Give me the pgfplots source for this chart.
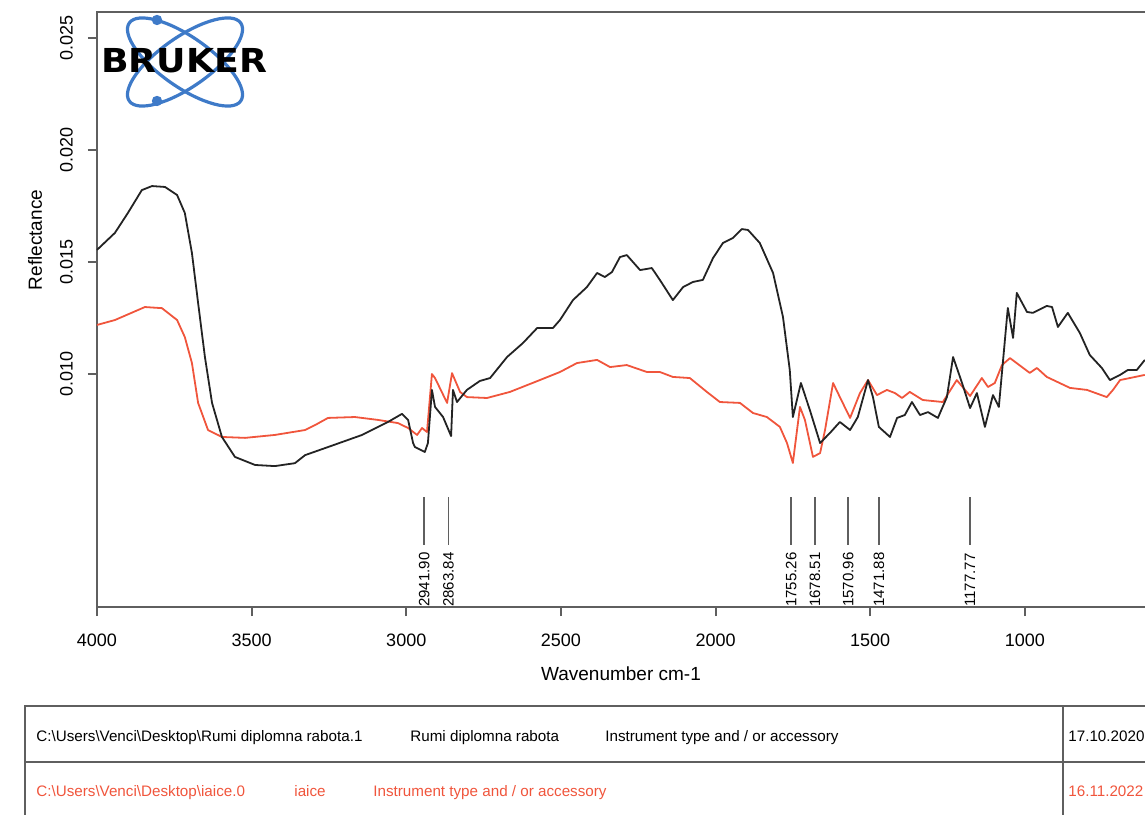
\documentclass[border=0pt]{standalone}
\usepackage{fontspec}
\setmainfont{Liberation Sans}
\newfontfamily\brukerfont{DejaVu Sans}
\usepackage{pgfplots}
\pgfplotsset{compat=1.18}
\definecolor{specblack}{RGB}{35,35,35}
\definecolor{specred}{RGB}{240,85,60}
\definecolor{axgray}{RGB}{95,95,95}
\definecolor{brukerblue}{RGB}{62,122,200}

\pgfplotstableread{
w v
4000 0.01554
3942 0.01630
3900 0.01719
3855 0.01821
3822 0.01839
3780 0.01835
3741 0.01799
3716 0.01719
3693 0.01540
3673 0.01317
3651 0.01076
3628 0.00871
3596 0.00719
3554 0.00630
3489 0.00594
3425 0.00589
3360 0.00602
3327 0.00638
3253 0.00674
3143 0.00728
3059 0.00786
3014 0.00822
2994 0.00795
2978 0.00692
2972 0.00674
2940 0.00652
2930 0.00692
2917 0.00929
2907 0.00853
2881 0.00808
2855 0.00723
2849 0.00929
2836 0.00875
2804 0.00929
2762 0.00969
2729 0.00982
2674 0.01076
2623 0.01138
2577 0.01205
2526 0.01205
2503 0.01241
2461 0.01330
2416 0.01388
2383 0.01451
2358 0.01433
2335 0.01455
2309 0.01522
2287 0.01531
2244 0.01464
2206 0.01473
2180 0.01420
2138 0.01330
2105 0.01388
2073 0.01411
2041 0.01420
2008 0.01518
1976 0.01585
1944 0.01607
1915 0.01647
1895 0.01643
1857 0.01585
1814 0.01451
1782 0.01255
1760 0.01018
1750 0.00808
1724 0.00960
1695 0.00839
1662 0.00692
1630 0.00737
1598 0.00786
1565 0.00750
1540 0.00808
1507 0.00973
1491 0.00897
1472 0.00764
1436 0.00719
1413 0.00804
1388 0.00817
1365 0.00875
1339 0.00817
1313 0.00830
1281 0.00804
1252 0.00897
1232 0.01076
1203 0.00960
1177 0.00848
1155 0.00915
1129 0.00764
1103 0.00906
1084 0.00853
1055 0.01295
1038 0.01161
1026 0.01362
993 0.01277
974 0.01273
929 0.01304
912 0.01299
893 0.01210
861 0.01273
822 0.01183
790 0.01085
751 0.01027
725 0.00973
692 0.00996
667 0.01018
638 0.01018
612 0.01063
}\blackdata

\pgfplotstableread{
w v
4000 0.01219
3942 0.01241
3845 0.01299
3790 0.01294
3741 0.01241
3716 0.01165
3693 0.01049
3673 0.00871
3641 0.00750
3596 0.00719
3521 0.00715
3425 0.00728
3327 0.00750
3295 0.00772
3253 0.00804
3166 0.00808
3091 0.00795
3027 0.00781
2994 0.00759
2965 0.00728
2949 0.00759
2933 0.00741
2917 0.01000
2907 0.00982
2868 0.00871
2852 0.01004
2826 0.00920
2804 0.00897
2739 0.00893
2665 0.00920
2568 0.00973
2503 0.01009
2448 0.01049
2383 0.01063
2341 0.01031
2287 0.01040
2222 0.01009
2180 0.01009
2138 0.00987
2083 0.00982
2028 0.00920
1986 0.00875
1921 0.00871
1879 0.00826
1834 0.00808
1792 0.00764
1769 0.00692
1750 0.00603
1727 0.00853
1711 0.00795
1685 0.00630
1662 0.00647
1646 0.00750
1620 0.00960
1598 0.00897
1565 0.00804
1533 0.00915
1507 0.00973
1478 0.00906
1446 0.00929
1420 0.00915
1397 0.00893
1372 0.00920
1330 0.00884
1265 0.00875
1220 0.00973
1177 0.00902
1139 0.00982
1119 0.00942
1097 0.00960
1074 0.01040
1048 0.01071
984 0.01005
961 0.01027
929 0.00987
854 0.00938
799 0.00929
735 0.00897
715 0.00929
692 0.00973
612 0.00996
}\reddata

\begin{document}
\begin{tikzpicture}
\useasboundingbox (-48.5pt,-103.5pt) rectangle (524pt,303.5pt);
\clip (-48.5pt,-103.5pt) rectangle (524pt,303.5pt);
\begin{axis}[
  at={(0pt,0pt)}, anchor=south west,
  scale only axis, width=556.7pt, height=297.5pt,
  x dir=reverse, xmin=400, xmax=4000, ymin=-0.0004, ymax=0.02616,
  axis line style={axgray, line width=1pt},
  tick pos=left, tick align=outside, major tick length=4.5pt,
  tick style={axgray, line width=1pt},
  xtick={4000,3500,3000,2500,2000,1500,1000},
  xticklabels={4000,3500,3000,2500,2000,1500,1000},
  ytick={0.010,0.015,0.020,0.025},
  yticklabels={0.010,0.015,0.020,0.025},
  scaled y ticks=false, scaled x ticks=false,
  yticklabel style={rotate=90, anchor=south, font=\fontsize{9}{10}\selectfont},
  xticklabel style={font=\fontsize{9}{10}\selectfont},
  xticklabel shift=5.5pt, yticklabel shift=4pt,
  clip=false,
]
\addplot[specred, line width=0.9pt, line join=round] table[x=w, y=v] {\reddata};
\addplot[specblack, line width=0.9pt, line join=round] table[x=w, y=v] {\blackdata};

\draw[axgray, line width=0.8pt] (axis cs:2941.90,0.00237) -- (axis cs:2941.90,0.00451);
\draw[axgray, line width=0.8pt] (axis cs:2863.84,0.00237) -- (axis cs:2863.84,0.00451);
\draw[axgray, line width=0.8pt] (axis cs:1755.26,0.00237) -- (axis cs:1755.26,0.00451);
\draw[axgray, line width=0.8pt] (axis cs:1678.51,0.00237) -- (axis cs:1678.51,0.00451);
\draw[axgray, line width=0.8pt] (axis cs:1570.96,0.00237) -- (axis cs:1570.96,0.00451);
\draw[axgray, line width=0.8pt] (axis cs:1471.88,0.00237) -- (axis cs:1471.88,0.00451);
\draw[axgray, line width=0.8pt] (axis cs:1177.77,0.00237) -- (axis cs:1177.77,0.00451);
\node[rotate=90, anchor=west, inner sep=0.5pt, font=\fontsize{7.5}{8}\selectfont] at (axis cs:2941.90,-0.00045) {2941.90};
\node[rotate=90, anchor=west, inner sep=0.5pt, font=\fontsize{7.5}{8}\selectfont] at (axis cs:2863.84,-0.00045) {2863.84};
\node[rotate=90, anchor=west, inner sep=0.5pt, font=\fontsize{7.5}{8}\selectfont] at (axis cs:1755.26,-0.00045) {1755.26};
\node[rotate=90, anchor=west, inner sep=0.5pt, font=\fontsize{7.5}{8}\selectfont] at (axis cs:1678.51,-0.00045) {1678.51};
\node[rotate=90, anchor=west, inner sep=0.5pt, font=\fontsize{7.5}{8}\selectfont] at (axis cs:1570.96,-0.00045) {1570.96};
\node[rotate=90, anchor=west, inner sep=0.5pt, font=\fontsize{7.5}{8}\selectfont] at (axis cs:1471.88,-0.00045) {1471.88};
\node[rotate=90, anchor=west, inner sep=0.5pt, font=\fontsize{7.5}{8}\selectfont] at (axis cs:1177.77,-0.00045) {1177.77};
\end{axis}

% axis titles
\node[font=\fontsize{9.5}{11}\selectfont] at (262pt,-33.5pt) {Wavenumber cm-1};
\node[rotate=90, font=\fontsize{9.5}{11}\selectfont] at (-31pt,183.5pt) {Reflectance};

% logo
\begin{scope}[shift={(44pt,272.5pt)}]
  \draw[brukerblue, line width=1.6pt, rotate=35] (0,0) ellipse (34pt and 12.5pt);
  \draw[brukerblue, line width=1.6pt, rotate=-35] (0,0) ellipse (34pt and 12.5pt);
\end{scope}
\fill[brukerblue] (30pt,293.5pt) circle (2.6pt);
\fill[brukerblue] (30pt,253pt) circle (2.6pt);
\node[font=\fontsize{16.5}{18}\brukerfont\bfseries, xscale=1.1, inner sep=0pt] at (43.5pt,273pt) {BRUKER};

% info table
\draw[axgray, line width=0.9pt] (-36pt,-120pt) -- (-36pt,-49.5pt) -- (540pt,-49.5pt);
\draw[axgray, line width=0.9pt] (-36pt,-77.5pt) -- (540pt,-77.5pt);
\draw[axgray, line width=0.9pt] (483pt,-49.5pt) -- (483pt,-120pt);
\begin{scope}[every node/.style={anchor=base west, inner sep=0pt, font=\fontsize{7.6}{8}\selectfont}]
\node at (-30.5pt,-67pt) {C:\textbackslash Users\textbackslash Venci\textbackslash Desktop\textbackslash Rumi diplomna rabota.1};
\node at (156.5pt,-67pt) {Rumi diplomna rabota};
\node at (254pt,-67pt) {Instrument type and / or accessory};
\node at (485.5pt,-67pt) {17.10.2020};
\node[text=specred] at (-30.5pt,-94.5pt) {C:\textbackslash Users\textbackslash Venci\textbackslash Desktop\textbackslash iaice.0};
\node[text=specred] at (98.5pt,-94.5pt) {iaice};
\node[text=specred] at (138pt,-94.5pt) {Instrument type and / or accessory};
\node[text=specred] at (485.5pt,-94.5pt) {16.11.2022};
\end{scope}
\end{tikzpicture}
\end{document}
